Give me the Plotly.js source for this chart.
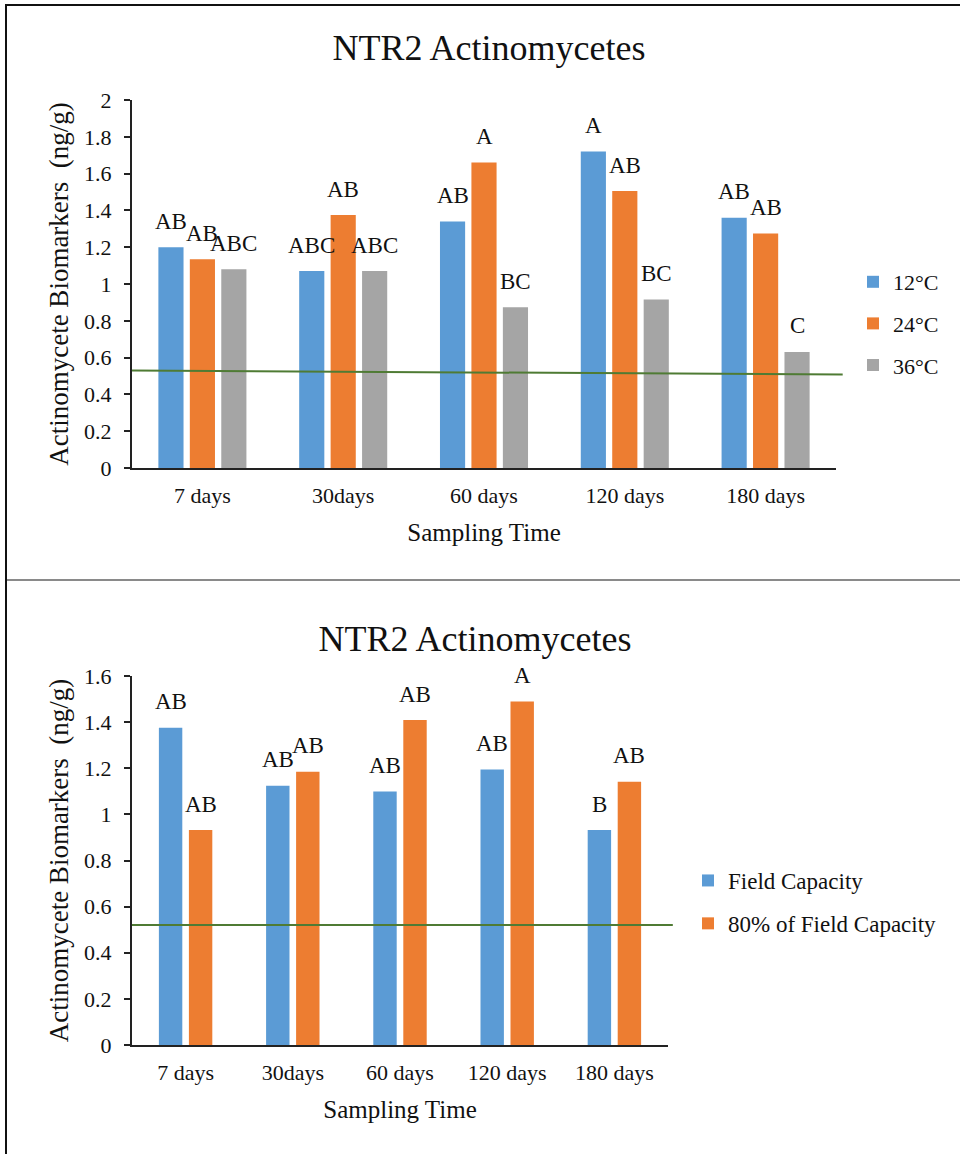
<!DOCTYPE html>
<html>
<head>
<meta charset="utf-8">
<script src="https://cdn.plot.ly/plotly-3.0.1.min.js"></script>
<style>
  html, body { margin: 0; padding: 0; background: #fff; }
  #page { position: relative; width: 960px; height: 1154px; overflow: hidden; }
  #tempChart { position: absolute; left: 0; top: 0; width: 960px; height: 578px; }
  #moistChart { position: absolute; left: 0; top: 582px; width: 960px; height: 572px; }
  .rule { position: absolute; }
  #frameTop { left: 5px; top: 4px; right: 0; height: 2px; background: #111; }
  #frameLeft { left: 5px; top: 4px; bottom: 0; width: 2px; background: #111; }
  #divider { left: 7px; top: 579px; right: 0; height: 2px; background: #8a8a8a; }
</style>
</head>
<body>
<div id="page">
  <div id="tempChart"></div>
  <div id="moistChart"></div>
  <div class="rule" id="frameTop"></div>
  <div class="rule" id="frameLeft"></div>
  <div class="rule" id="divider"></div>
</div>
<script>
// Sampling times shared by both panels
const categories = ['7 days', '30days', '60 days', '120 days', '180 days'];

// Panel 1: incubation temperature
const temp12 = [1.20, 1.07, 1.34, 1.72, 1.36];
const temp24 = [1.135, 1.375, 1.66, 1.505, 1.275];
const temp36 = [1.08, 1.07, 0.873, 0.916, 0.631];
const temp12Letters = ['AB', 'ABC', 'AB', 'A', 'AB'];
const temp24Letters = ['AB', 'AB', 'A', 'AB', 'AB'];
const temp36Letters = ['ABC', 'ABC', 'BC', 'BC', 'C'];
const tempBaseline = [0.53, 0.508];   // reference level, start and end

// Panel 2: soil moisture
const fieldCap = [1.376, 1.124, 1.099, 1.195, 0.932];
const fieldCap80 = [0.932, 1.185, 1.409, 1.489, 1.142];
const fieldCapLetters = ['AB', 'AB', 'AB', 'AB', 'B'];
const fieldCap80Letters = ['AB', 'AB', 'AB', 'A', 'AB'];
const moistBaseline = [0.52, 0.52];

const COLORS = { blue: '#5B9BD5', orange: '#ED7D31', gray: '#A5A5A5', line: '#4F7B34' };
const SERIF = '"Liberation Serif", "Times New Roman", serif';

function barTrace(name, values, color, group) {
  return {
    type: 'bar', name: name, x: categories, y: values,
    marker: { color: color }, legendgroup: group,
    hoverinfo: 'skip'
  };
}

// Significance letters sit above each bar of a grouped set
function letterAnnotations(seriesList, bargap) {
  const n = seriesList.length;
  const slot = (1 - bargap) / n;
  const out = [];
  seriesList.forEach((s, k) => {
    const off = (k - (n - 1) / 2) * slot;
    s.values.forEach((v, i) => {
      out.push({
        x: i + off, y: v, xref: 'x', yref: 'y',
        text: s.letters[i], showarrow: false,
        yanchor: 'middle', yshift: 26,
        font: { family: SERIF, size: 23, color: '#111' }
      });
    });
  });
  return out;
}

function baseLayout(opts) {
  return {
    width: 960, height: opts.height,
    margin: opts.margin,
    paper_bgcolor: 'rgba(0,0,0,0)', plot_bgcolor: 'rgba(0,0,0,0)',
    font: { family: SERIF, color: '#111', size: 22 },
    title: {
      text: 'NTR2 Actinomycetes',
      font: { family: SERIF, size: 36, color: '#111' },
      xref: 'container', yref: 'container',
      x: opts.titleX, y: opts.titleY, xanchor: 'center', yanchor: 'middle'
    },
    barmode: 'group', bargap: opts.bargap, bargroupgap: opts.bargroupgap,
    showlegend: true,
    legend: {
      xref: 'container', yref: 'container',
      x: opts.legendX, y: opts.legendY, xanchor: 'left', yanchor: 'top',
      font: { family: SERIF, size: opts.legendSize, color: '#111' },
      tracegroupgap: 10, bgcolor: 'rgba(0,0,0,0)'
    },
    xaxis: {
      type: 'category', showgrid: false, zeroline: false,
      showline: true, linecolor: '#222', linewidth: 2,
      ticks: '', ticklabelstandoff: 7,
      tickfont: { family: SERIF, size: 22, color: '#111' },
      title: { text: 'Sampling Time', font: { family: SERIF, size: 25, color: '#111' }, standoff: 16 }
    },
    yaxis: {
      range: opts.yRange, dtick: opts.dtick, tick0: 0,
      showgrid: false, zeroline: false,
      showline: true, linecolor: '#222', linewidth: 2,
      ticks: 'outside', ticklen: 6, tickwidth: 2, tickcolor: '#222',
      ticklabelstandoff: 8,
      tickfont: { family: SERIF, size: 22, color: '#111' },
      title: { text: 'Actinomycete Biomarkers\u00a0 (ng/g)', font: { family: SERIF, size: 27, color: '#111' }, standoff: 8 }
    },
    // mirror axis carrying the inward half of the crossing tick marks
    yaxis2: {
      overlaying: 'y', side: 'left', range: opts.yRange, dtick: opts.dtick, tick0: 0,
      showgrid: false, zeroline: false, showline: false,
      ticks: 'inside', ticklen: 7, tickwidth: 2, tickcolor: '#222',
      showticklabels: false
    },
    shapes: [{
      type: 'line', xref: 'paper', yref: 'y',
      x0: 0, x1: opts.lineEnd, y0: opts.baseline[0], y1: opts.baseline[1],
      line: { color: COLORS.line, width: 2 }, layer: 'above'
    }],
    annotations: opts.annotations
  };
}

// ---- Panel 1: temperature ----
const tempGap = 0.33, tempGroupGap = 0.2;
const tempTraces = [
  barTrace('12°C', temp12, COLORS.blue, 'a'),
  barTrace('24°C', temp24, COLORS.orange, 'b'),
  barTrace('36°C', temp36, COLORS.gray, 'c')
];
Plotly.newPlot('tempChart', tempTraces, baseLayout({
  height: 578,
  margin: { l: 132, r: 124, t: 100, b: 110 },
  titleX: 489 / 960, titleY: 1 - 47 / 578,
  bargap: tempGap, bargroupgap: tempGroupGap,
  legendX: 853 / 960, legendY: 1 - 261 / 578, legendSize: 22,
  yRange: [0, 2], dtick: 0.2,
  baseline: tempBaseline, lineEnd: 1.0095,
  annotations: letterAnnotations([
    { values: temp12, letters: temp12Letters },
    { values: temp24, letters: temp24Letters },
    { values: temp36, letters: temp36Letters }
  ], tempGap)
}), { staticPlot: true });

// ---- Panel 2: moisture ----
const moistGap = 0.44, moistGroupGap = 0.22;
const moistTraces = [
  barTrace('Field Capacity', fieldCap, COLORS.blue, 'a'),
  barTrace('80% of Field Capacity', fieldCap80, COLORS.orange, 'b')
];
Plotly.newPlot('moistChart', moistTraces, baseLayout({
  height: 572,
  margin: { l: 132, r: 292, t: 94, b: 109 },
  titleX: 475 / 960, titleY: 1 - 56 / 572,
  bargap: moistGap, bargroupgap: moistGroupGap,
  legendX: 688 / 960, legendY: 1 - 277 / 572, legendSize: 23,
  yRange: [0, 1.6], dtick: 0.2,
  baseline: moistBaseline, lineEnd: 1.009,
  annotations: letterAnnotations([
    { values: fieldCap, letters: fieldCapLetters },
    { values: fieldCap80, letters: fieldCap80Letters }
  ], moistGap)
}), { staticPlot: true });
</script>
</body>
</html>
